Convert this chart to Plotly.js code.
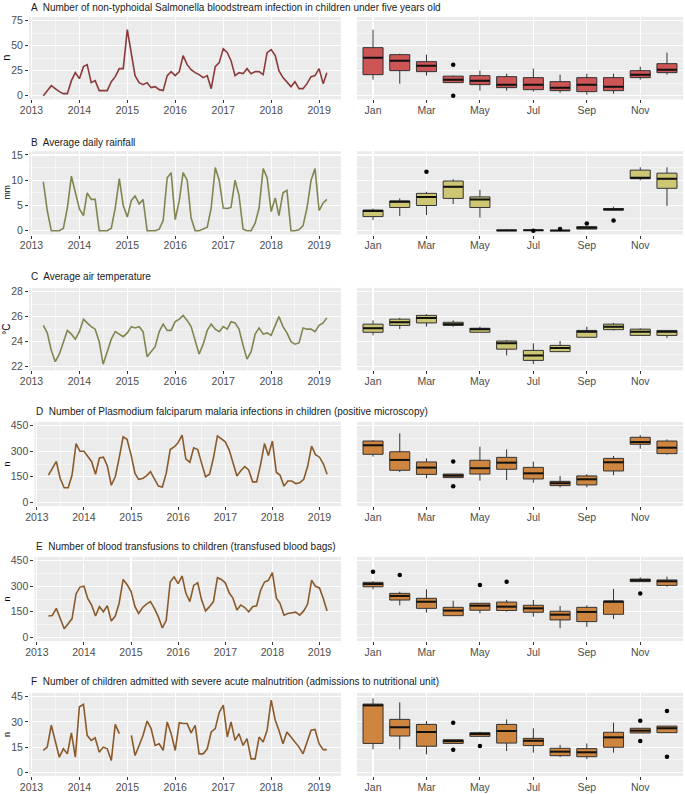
<!DOCTYPE html>
<html><head><meta charset="utf-8">
<script src="https://cdn.plot.ly/plotly-3.0.1.min.js"></script>
<style>html,body{margin:0;padding:0;background:#fff}</style>
</head><body><div id="chart" style="width:685px;height:794px"></div>
<script>
// ---------- DATA ----------
const monthTickVals = [1,3,5,7,9,11];
const monthTickText = ['Jan','Mar','May','Jul','Sep','Nov'];
const boxMonths = [1,2,3,4,5,6,7,8,9,10,11,12];

const panelTitles = [
  'A  Number of non-typhoidal Salmonella bloodstream infection in children under five years old',
  'B  Average daily rainfall',
  'C  Average air temperature',
  'D  Number of Plasmodium falciparum malaria infections in children (positive microscopy)',
  'E  Number of blood transfusions to children (transfused blood bags)',
  'F  Number of children admitted with severe acute malnutrition (admissions to nutritional unit)'
];
const yTitles = ['n','mm','°C','n','n','n'];

// monthly series, Apr 2013 - Mar 2019
const salmonella = [0,5,10,7,4,2,2,15,23,
  17,29,31,13,15,5,5,5,14,19,27,27,
  66,40,20,13,11,13,8,9,6,5,20,24,
  20,24,40,31,26,23,21,18,20,7,29,33,
  47,43,35,20,23,22,27,22,24,24,21,43,
  46,40,25,18,14,9,14,7,7,12,19,20,
  27,12,23];
const rainfall = [9.7,4,0,0,0,0.5,4.5,10.8,7.5,
  4.3,3,7.5,6.2,6.2,0,0,0,0.5,4.5,10.3,5,
  2.7,6,6.9,5.3,6.2,0,0,0,0.3,2,10.5,11.5,
  2.2,6,11.5,10,2.5,0,0,0.3,0.7,4.5,12.5,10,
  4.5,4.4,4.6,10,7,0.3,0,0,1.5,4.5,12.3,10.5,
  3.8,6.5,3,7.5,8,0,0,0.2,1,4.5,10,12.3,
  4,5.5,6.2];
const temperature = [25.3,24.7,23.3,22.4,23.0,24.0,24.9,24.6,24.2,
  24.8,25.8,25.5,25.2,25.0,24.0,22.2,23.3,24.2,24.8,24.6,24.4,
  24.7,25.2,25.1,25.2,24.8,22.8,23.2,23.6,24.8,25.4,24.9,24.9,
  25.6,25.8,26.1,25.7,25.2,24.0,23.0,23.8,24.9,25.4,25.0,24.8,
  25.2,25.0,25.6,25.5,25.0,23.7,22.6,23.2,24.6,25.1,24.6,24.7,
  24.5,25.3,26.0,25.2,24.7,24.0,23.8,23.9,25.1,25.0,25.0,24.8,
  25.3,25.5,25.9];
const malaria = [160,200,240,140,85,85,160,345,300,
  300,270,240,165,260,265,215,100,150,260,385,370,
  280,170,135,140,155,180,140,95,90,170,310,325,
  350,395,255,235,320,310,230,150,165,260,390,370,
  355,305,230,155,185,210,190,120,120,220,345,275,
  360,175,160,95,125,125,110,115,135,210,330,280,
  265,225,165];
const transfusions = [125,128,170,110,50,80,110,255,295,
  300,225,190,125,180,150,185,95,125,200,340,310,
  270,180,140,175,195,210,170,120,55,100,325,355,
  315,360,260,210,305,320,220,155,180,210,350,340,
  320,260,230,160,190,175,150,180,185,275,325,335,
  380,230,200,130,140,145,148,130,155,195,335,300,
  290,225,155];
const malnutrition = [13,15,28,19,9,14,11,23.5,9,
  39,40.5,22,19,20.5,12,15,14,7,28.5,23,null,
  null,22,10,16,22,30.5,26,16,17,13,30,23,
  13,29.5,29,29,23.5,28,11,11,14,24,26,35.5,
  40,21,30,19,23,16,20,8,8,21,18,25,
  43,31,25,17,24,21,18,15,11,18,25,25.5,
  17,13.5,13.5];

// monthly box statistics (Jan..Dec)
const salmLo  = [16,12,20,13,5,5,4,3,1,2,16,21];
const salmQ1  = [21,25,24,13,11,8,6,5,4,5,18,23];
const salmMed = [38,35,30,16,15,11,11,8,11,9,21,26];
const salmQ3  = [48,41,34,19.5,20,19,18,14,18,18,25,32];
const salmHi  = [66,42,41,20,25,22,27,21,22,22,29,43];
const salmOutMonth = [4,4];
const salmOutVal   = [31,0];

const rainLo  = [2.1,2.9,3.1,5.3,2.6,0,0.05,0,0.3,4.1,10.0,4.9];
const rainQ1  = [2.8,4.6,5.0,6.4,4.6,0.02,0.05,0,0.33,4.1,10.3,8.4];
const rainMed = [3.9,5.75,6.7,8.7,6.2,0.05,0.07,0.02,0.6,4.2,10.5,10.3];
const rainQ3  = [4.1,5.9,7.4,9.85,6.7,0.15,0.1,0.05,0.8,4.4,12.0,11.4];
const rainHi  = [4.4,6.4,7.7,10.2,8.1,0.3,0.1,0.1,0.8,4.75,12.56,12.56];
const rainOutMonth = [3,7,8,9,10];
const rainOutVal   = [11.7,0,0.35,1.45,2.0];

const tempLo  = [24.5,25.0,25.2,25.2,24.75,22.9,22.2,23.2,24.3,24.9,24.5,24.3];
const tempQ1  = [24.75,25.3,25.5,25.3,24.75,23.4,22.5,23.2,24.35,24.96,24.5,24.5];
const tempMed = [25.07,25.55,25.9,25.4,25.0,23.87,22.9,23.5,24.8,25.2,24.8,24.8];
const tempQ3  = [25.4,25.8,26.1,25.55,25.07,24.05,23.3,23.7,24.9,25.4,25.0,24.9];
const tempHi  = [25.7,25.9,26.2,25.7,25.2,24.13,23.87,24.05,25.2,25.5,25.07,24.9];
const tempOutMonth = [];
const tempOutVal   = [];

const malLo  = [268,178,141,145,127,131,115,88,88,159,315,280];
const malQ1  = [282,188,164,145,166,194,137,98,102,184,341,286];
const malMed = [335,249,204,157,200,233,170,112,135,235,354,321];
const malQ3  = [360,297,237,166,247,264,205,123,155,258,382,360];
const malHi  = [366,405,258,166,327,311,239,155,166,272,395,370];
const malOutMonth = [4,4];
const malOutVal   = [239,94];

const trLo  = [282,188,145,127,141,151,121,53,61,108,327,297];
const trQ1  = [297,219,170,127,159,157,147,102,92,135,327,305];
const trMed = [313,243,209,157,186,180,170,133,149,211,335,329];
const trQ3  = [323,258,229,176,200,207,188,153,176,211,342,337];
const trHi  = [331,268,282,215,200,219,219,184,188,284,352,356];
const trOutMonth = [1,2,5,6,11];
const trOutVal   = [385,366,307,327,258];

const samLo  = [13.7,13.7,10.7,17.2,21.4,12.7,11.7,9.1,7.9,11.7,23.4,23.6];
const samQ1  = [17.2,21.6,15.5,17.2,21.4,17.4,15.9,9.9,9.3,14.9,23.4,23.6];
const samMed = [39.8,26.8,24,18.6,22.8,24.6,18.8,12.3,11.9,20.8,24.8,26.2];
const samQ3  = [40.6,31.5,28.5,19.4,23.6,28.5,20.2,14.3,14.1,23.8,26.2,27.5];
const samHi  = [44,41.6,30.5,19.4,24.2,31.5,26.2,16.3,17.2,29.5,26.2,27.5];
const samOutMonth = [4,4,5,11,11,12,12];
const samOutVal   = [29.5,13.5,15.7,30.7,18.6,36.5,9.3];

// ---------- BUILD ----------
const dates = [];
for (let i = 0; i < salmonella.length; i++) {
  const m = 3 + i, y = 2013 + Math.floor(m / 12), mo = m % 12 + 1;
  dates.push(y + '-' + String(mo).padStart(2, '0') + '-01');
}

const W = 685, H = 794;
const FONT = 'Liberation Sans, Arial, sans-serif';
const rows = [
  {series: salmonella, lo: salmLo, q1: salmQ1, med: salmMed, q3: salmQ3, hi: salmHi, ox: salmOutMonth, oy: salmOutVal,
   line: '#8B3A3A', fill: '#CD5555', range: [-3.75, 78.75], dtick: 25, top: 16.9, bot: 99.4, left: 29, tY: 7, ytSize: 11},
  {series: rainfall, lo: rainLo, q1: rainQ1, med: rainMed, q3: rainQ3, hi: rainHi, ox: rainOutMonth, oy: rainOutVal,
   line: '#838550', fill: '#CDC673', range: [-0.75, 15.75], dtick: 5, top: 151.2, bot: 234.5, left: 29, tY: 142.5, ytSize: 8.5},
  {series: temperature, lo: tempLo, q1: tempQ1, med: tempMed, q3: tempQ3, hi: tempHi, ox: tempOutMonth, oy: tempOutVal,
   line: '#838550', fill: '#CDC673', range: [21.7, 28.3], dtick: 2, top: 287.9, bot: 370.4, left: 29, tY: 276.5, ytSize: 10},
  {series: malaria, lo: malLo, q1: malQ1, med: malMed, q3: malQ3, hi: malHi, ox: malOutMonth, oy: malOutVal,
   line: '#8B5A2B', fill: '#CD853F', range: [-22.5, 472.5], dtick: 150, top: 421.9, bot: 506.1, left: 34.4, tY: 411.5, ytSize: 9},
  {series: transfusions, lo: trLo, q1: trQ1, med: trMed, q3: trQ3, hi: trHi, ox: trOutMonth, oy: trOutVal,
   line: '#8B5A2B', fill: '#CD853F', range: [-22.5, 472.5], dtick: 150, top: 556.9, bot: 641.1, left: 34.4, tY: 546.5, ytSize: 9},
  {series: malnutrition, lo: samLo, q1: samQ1, med: samMed, q3: samQ3, hi: samHi, ox: samOutMonth, oy: samOutVal,
   line: '#8B5A2B', fill: '#CD853F', range: [-2.25, 47.25], dtick: 15, top: 692.9, bot: 776.1, left: 29, tY: 681.5, ytSize: 9}
];

const RIGHT_L = 357, RIGHT_R = 683, LEFT_R = 341;
const tickFont = {family: FONT, size: 10.5, color: '#4D4D4D'};
const traces = [];
const layout = {
  width: W, height: H, margin: {l: 0, r: 0, t: 0, b: 0},
  paper_bgcolor: '#FFFFFF', plot_bgcolor: '#EBEBEB',
  showlegend: false, font: {family: FONT}, annotations: []
};

rows.forEach((r, i) => {
  const a = 2 * i + 1, b = 2 * i + 2;
  const yd = [1 - r.bot / H, 1 - r.top / H];
  const common = {showgrid: true, gridcolor: '#FFFFFF', gridwidth: 1.1, zeroline: false, showline: false,
                  tickfont: tickFont, ticks: 'outside', ticklen: 3, tickcolor: '#333333', tickwidth: 1};
  // left time series axes
  layout['xaxis' + a] = Object.assign({}, common, {
    type: 'date', domain: [r.left / W, LEFT_R / W], anchor: 'y' + a,
    range: ['2012-12-13', '2019-06-17'], dtick: 'M12', tick0: '2013-01-01', tickformat: '%Y',
    ticklabelstandoff: -2,
    minor: {dtick: 'M6', tick0: '2013-01-01', showgrid: true, gridcolor: '#FFFFFF', gridwidth: 0.5}
  });
  layout['yaxis' + a] = Object.assign({}, common, {
    domain: yd, anchor: 'x' + a, range: r.range, dtick: r.dtick, tick0: 0,
    minor: {dtick: r.dtick / 2, tick0: 0, showgrid: true, gridcolor: '#FFFFFF', gridwidth: 0.5}
  });
  // right box axes
  layout['xaxis' + b] = Object.assign({}, common, {
    domain: [RIGHT_L / W, RIGHT_R / W], anchor: 'y' + b, range: [0.4, 12.6],
    tickmode: 'array', tickvals: monthTickVals, ticktext: monthTickText, ticklabelstandoff: -2
  });
  layout['yaxis' + b] = Object.assign({}, common, {
    domain: yd, anchor: 'x' + b, range: r.range, dtick: r.dtick, tick0: 0,
    showticklabels: false, ticks: '',
    minor: {dtick: r.dtick / 2, tick0: 0, showgrid: true, gridcolor: '#FFFFFF', gridwidth: 0.5}
  });

  traces.push({type: 'scatter', mode: 'lines', x: dates, y: r.series, xaxis: 'x' + a, yaxis: 'y' + a,
               line: {color: r.line, width: 1.6}, connectgaps: false, hoverinfo: 'skip'});
  traces.push({type: 'box', x: boxMonths, q1: r.q1, median: r.med, q3: r.q3, lowerfence: r.lo, upperfence: r.hi,
               xaxis: 'x' + b, yaxis: 'y' + b, width: 0.75, fillcolor: r.fill, boxpoints: false,
               line: {color: '#333333', width: 1}, whiskerwidth: 0, hoverinfo: 'skip'});
  traces.push({type: 'scatter', mode: 'markers', x: boxMonths, y: r.med, xaxis: 'x' + b, yaxis: 'y' + b,
               marker: {symbol: 'line-ew', size: 14.2, line: {color: '#111111', width: 2}}, hoverinfo: 'skip'});
  if (r.ox.length) {
    traces.push({type: 'scatter', mode: 'markers', x: r.ox, y: r.oy, xaxis: 'x' + b, yaxis: 'y' + b,
                 marker: {color: '#000000', size: 4.5}, hoverinfo: 'skip'});
  }

  layout.annotations.push({text: panelTitles[i], xref: 'paper', yref: 'paper', x: r.left / W, y: 1 - r.tY / H,
    xanchor: 'left', yanchor: 'middle', showarrow: false, font: {family: FONT, size: 10, color: '#1A1A1A'}});
  layout.annotations.push({text: yTitles[i], xref: 'paper', yref: 'paper', x: 6.5 / W, y: 1 - (r.top + r.bot) / 2 / H,
    xanchor: 'center', yanchor: 'middle', textangle: -90, showarrow: false,
    font: {family: FONT, size: r.ytSize, color: '#000000'}});
});

Plotly.newPlot('chart', traces, layout, {staticPlot: true, displayModeBar: false});
</script></body></html>
